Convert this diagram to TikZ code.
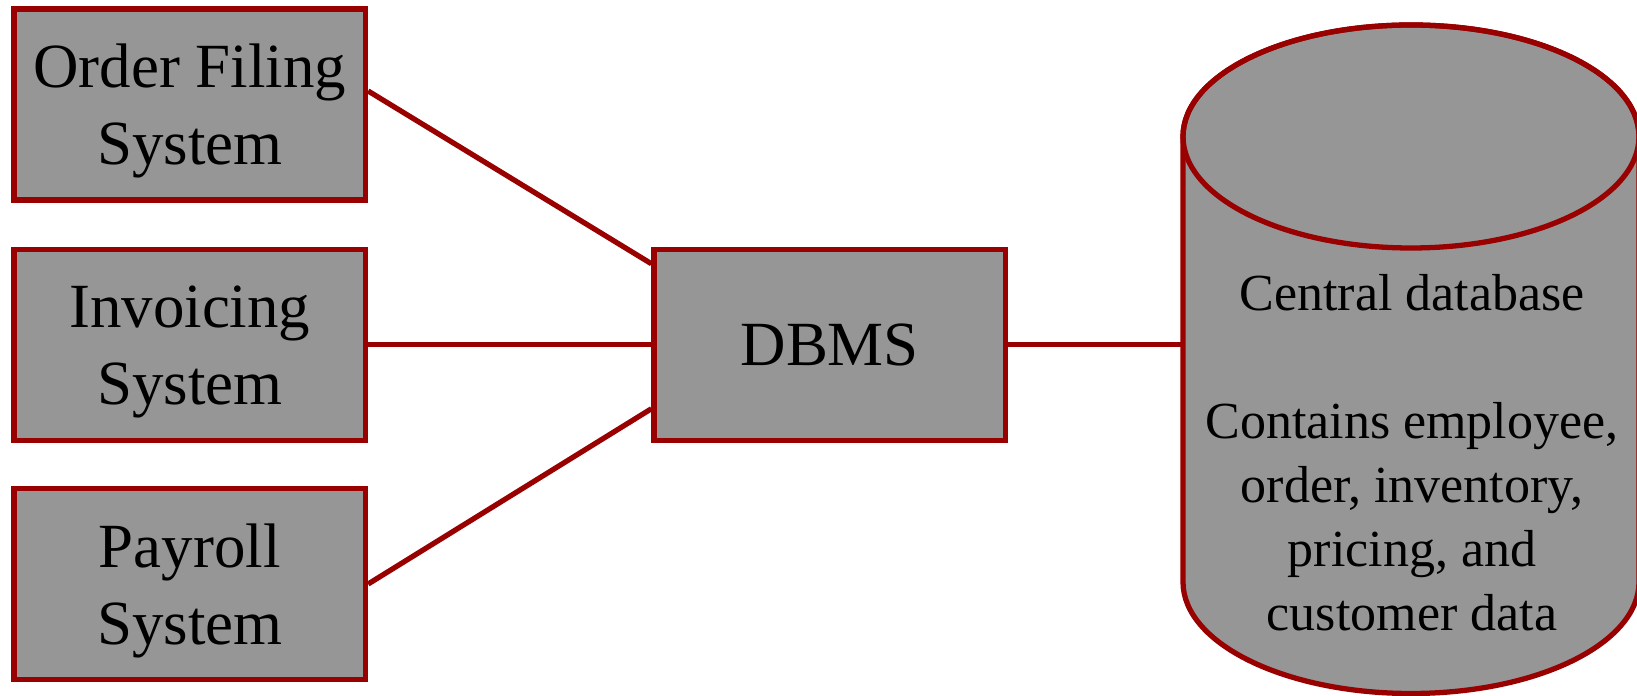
\documentclass[tikz,border=0pt]{standalone}
\usepackage{fontspec}
\setmainfont{Liberation Serif}
\usepackage{xcolor}
\usepackage{tikz}

\definecolor{dbred}{RGB}{153,0,0}
\definecolor{boxgray}{RGB}{150,150,150}

\begin{document}
\begin{tikzpicture}[
  sysbox/.style={draw=dbred, fill=boxgray, line width=1.5pt, inner sep=0pt,
    minimum width=3.515cm, minimum height=1.91cm, align=center, text depth=0pt,
    font=\fontsize{17.9pt}{21.9pt}\selectfont},
  link/.style={dbred, line width=1.5pt}]
 \useasboundingbox (0,0) rectangle (16.37,6.96);
 % the three systems and the DBMS
 \node [sysbox] (order) at (1.8975, 5.915) {Order Filing\\System};
 \node [sysbox] (invoice) at (1.8975, 3.5125) {Invoicing\\System};
 \node [sysbox] (payroll) at (1.8975, 1.12) {Payroll\\System};
 \node [sysbox] (dbms) at (8.2975, 3.5125) {DBMS};
 % central database (cylinder)
 \filldraw [dbred, fill=boxgray, line width=1.5pt] (11.83, 5.595) -- (11.83, 1.14)
   arc [start angle=180, end angle=360, x radius=2.28, y radius=1.115]
   -- (16.39, 5.595)
   arc [start angle=0, end angle=180, x radius=2.28, y radius=1.115] -- cycle;
 \draw [dbred, line width=1.5pt] (14.11, 5.595) ellipse [x radius=2.28, y radius=1.115];
 \coordinate (dbin) at (11.83, 3.5125);
 \node [align=center, font=\fontsize{14.8pt}{18.2pt}\selectfont] (dbtext) at (14.12, 2.43)
   {Central database\\[18.2pt]Contains employee,\\order, inventory,\\pricing, and\\customer data};
 % links
 \draw [link] ([yshift=1.35mm]order.east) -- ([yshift=8.1mm]dbms.west);
 \draw [link] (invoice) -- (dbms);
 \draw [link] (payroll.east) -- ([yshift=-6.4mm]dbms.west);
 \draw [link] (dbms.east) -- (dbin);
\end{tikzpicture}
\end{document}
